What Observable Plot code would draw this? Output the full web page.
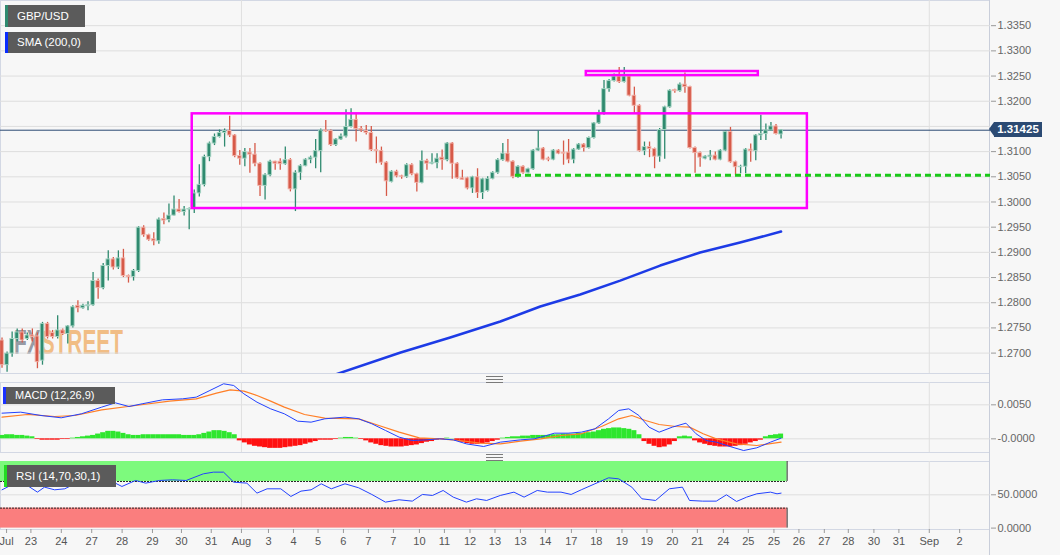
<!DOCTYPE html>
<html><head><meta charset="utf-8">
<script src="https://cdn.jsdelivr.net/npm/d3@7"></script>
<script src="https://cdn.jsdelivr.net/npm/@observablehq/plot@0.6"></script>
<style>
html,body{margin:0;padding:0;background:#f7f7f7;}
#wrap{position:relative;width:1060px;height:555px;overflow:hidden;font-family:"Liberation Sans",Arial,sans-serif;}
#wrap svg.plotsvg{position:absolute;left:0;}
.pane{position:absolute;left:0;width:989px;border:1px solid #d3d8e4;border-right:none;box-sizing:border-box;}
.tag{position:absolute;background:#5b5b5b;color:#fff;font-size:11.5px;box-sizing:border-box;white-space:nowrap;}
.tag i{position:absolute;left:0;top:0;bottom:0;width:2.5px;}
.handle{position:absolute;width:17px;height:5px;border-top:1px solid #7a7a7a;border-bottom:1px solid #7a7a7a;}
.handle:after{content:"";position:absolute;left:0;right:0;top:2px;border-top:1px solid #7a7a7a;}
</style></head>
<body><div id="wrap"></div>
<script>
// ---------------- data ----------------
const opens = [
1.2725,1.2676,1.2699,1.2728,1.2741,1.2728,1.2735,1.2733,1.2685,1.2758,
1.2740,1.2732,1.2745,1.2738,1.2753,1.2794,1.2789,1.2793,1.2795,1.2843,
1.2829,1.2873,1.2886,1.2870,1.2888,1.2853,1.2851,1.2863,1.2949,1.2934,
1.2926,1.2922,1.2966,1.2964,1.2973,1.2985,1.2980,1.2985,1.2986,1.3017,
1.3034,1.3089,1.3116,1.3129,1.3137,1.3141,1.3132,1.3091,1.3086,1.3098,
1.3094,1.3076,1.3032,1.3053,1.3080,1.3080,1.3075,1.3083,1.3025,1.3058,
1.3071,1.3084,1.3088,1.3101,1.3142,1.3141,1.3113,1.3124,1.3130,1.3149,
1.3163,1.3145,1.3141,1.3137,1.3103,1.3101,1.3078,1.3040,1.3060,1.3051,
1.3050,1.3073,1.3055,1.3038,1.3081,1.3076,1.3077,1.3088,1.3083,1.3116,
1.3076,1.3047,1.3047,1.3027,1.3049,1.3018,1.3022,1.3046,1.3058,1.3083,
1.3096,1.3080,1.3050,1.3070,1.3058,1.3065,1.3102,1.3106,1.3086,1.3084,
1.3102,1.3098,1.3098,1.3084,1.3104,1.3114,1.3107,1.3127,1.3156,1.3176,
1.3224,1.3240,1.3249,1.3238,1.3249,1.3211,1.3191,1.3101,1.3109,1.3105,
1.3090,1.3143,1.3188,1.3222,1.3220,1.3233,1.3228,1.3107,1.3097,1.3086,
1.3089,1.3092,1.3084,1.3102,1.3139,1.3079,1.3069,1.3070,1.3104,1.3101,
1.3132,1.3135,1.3142,1.3150,1.3134];
const highs = [
1.2730,1.2702,1.2742,1.2748,1.2748,1.2740,1.2748,1.2740,1.2761,1.2761,
1.2745,1.2774,1.2748,1.2755,1.2794,1.2804,1.2797,1.2802,1.2860,1.2847,
1.2878,1.2903,1.2890,1.2903,1.2906,1.2855,1.2866,1.2951,1.2953,1.2936,
1.2939,1.2968,1.2978,1.2996,1.3012,1.3005,1.2991,1.2988,1.3024,1.3074,
1.3093,1.3119,1.3135,1.3143,1.3145,1.3170,1.3134,1.3102,1.3106,1.3106,
1.3116,1.3078,1.3056,1.3083,1.3081,1.3086,1.3109,1.3086,1.3062,1.3074,
1.3086,1.3091,1.3124,1.3145,1.3162,1.3143,1.3126,1.3135,1.3183,1.3185,
1.3176,1.3150,1.3152,1.3150,1.3129,1.3109,1.3080,1.3062,1.3063,1.3053,
1.3076,1.3076,1.3057,1.3101,1.3085,1.3096,1.3096,1.3103,1.3118,1.3118,
1.3078,1.3063,1.3049,1.3051,1.3066,1.3047,1.3050,1.3060,1.3086,1.3116,
1.3124,1.3082,1.3072,1.3072,1.3067,1.3104,1.3141,1.3108,1.3089,1.3104,
1.3104,1.3121,1.3124,1.3106,1.3116,1.3116,1.3129,1.3158,1.3182,1.3241,
1.3243,1.3254,1.3267,1.3267,1.3252,1.3228,1.3193,1.3119,1.3119,1.3107,
1.3146,1.3190,1.3223,1.3224,1.3236,1.3256,1.3230,1.3109,1.3099,1.3092,
1.3102,1.3099,1.3104,1.3141,1.3148,1.3081,1.3073,1.3106,1.3115,1.3134,
1.3172,1.3155,1.3158,1.3154,1.3144];
const lows = [
1.2670,1.2662,1.2692,1.2722,1.2720,1.2725,1.2722,1.2669,1.2676,1.2728,
1.2728,1.2728,1.2735,1.2718,1.2750,1.2780,1.2787,1.2784,1.2793,1.2807,
1.2826,1.2843,1.2865,1.2866,1.2850,1.2839,1.2843,1.2860,1.2930,1.2922,
1.2913,1.2916,1.2955,1.2959,1.2972,1.2978,1.2972,1.2945,1.2977,1.3010,
1.3030,1.3080,1.3112,1.3127,1.3109,1.3128,1.3088,1.3073,1.3070,1.3057,
1.3070,1.3011,1.3004,1.3050,1.3063,1.3063,1.3073,1.3020,1.2981,1.3043,
1.3070,1.3076,1.3066,1.3058,1.3138,1.3110,1.3110,1.3122,1.3127,1.3147,
1.3119,1.3138,1.3133,1.3100,1.3076,1.3073,1.3011,1.3038,1.3048,1.3045,
1.3047,1.3052,1.3020,1.3036,1.3063,1.3074,1.3066,1.3063,1.3080,1.3045,
1.3045,1.3043,1.3024,1.3017,1.3007,1.3005,1.3020,1.3044,1.3055,1.3081,
1.3078,1.3046,1.3047,1.3055,1.3056,1.3063,1.3100,1.3082,1.3080,1.3082,
1.3094,1.3073,1.3076,1.3076,1.3102,1.3099,1.3105,1.3125,1.3154,1.3172,
1.3218,1.3238,1.3235,1.3236,1.3209,1.3175,1.3099,1.3092,1.3088,1.3066,
1.3079,1.3085,1.3186,1.3216,1.3218,1.3216,1.3105,1.3057,1.3069,1.3084,
1.3082,1.3082,1.3082,1.3100,1.3077,1.3053,1.3056,1.3056,1.3079,1.3082,
1.3122,1.3122,1.3140,1.3133,1.3125];
const closes = [
1.2676,1.2699,1.2728,1.2741,1.2725,1.2735,1.2732,1.2682,1.2758,1.2732,
1.2732,1.2745,1.2738,1.2753,1.2791,1.2789,1.2794,1.2795,1.2843,1.2829,
1.2873,1.2886,1.2870,1.2888,1.2853,1.2851,1.2863,1.2949,1.2934,1.2925,
1.2922,1.2965,1.2963,1.2973,1.2985,1.2980,1.2985,1.2986,1.3017,1.3034,
1.3089,1.3116,1.3129,1.3137,1.3141,1.3132,1.3091,1.3086,1.3099,1.3094,
1.3076,1.3032,1.3053,1.3080,1.3076,1.3075,1.3083,1.3025,1.3058,1.3071,
1.3084,1.3088,1.3101,1.3142,1.3140,1.3113,1.3124,1.3130,1.3149,1.3163,
1.3145,1.3142,1.3137,1.3103,1.3101,1.3078,1.3041,1.3060,1.3051,1.3050,
1.3073,1.3055,1.3038,1.3081,1.3076,1.3078,1.3086,1.3083,1.3116,1.3076,
1.3047,1.3044,1.3027,1.3049,1.3018,1.3045,1.3046,1.3058,1.3083,1.3096,
1.3080,1.3050,1.3070,1.3058,1.3065,1.3102,1.3106,1.3084,1.3084,1.3102,
1.3096,1.3096,1.3084,1.3104,1.3114,1.3107,1.3127,1.3156,1.3176,1.3224,
1.3240,1.3249,1.3238,1.3249,1.3211,1.3191,1.3101,1.3109,1.3105,1.3090,
1.3143,1.3188,1.3221,1.3220,1.3233,1.3228,1.3107,1.3097,1.3088,1.3090,
1.3092,1.3084,1.3102,1.3139,1.3079,1.3069,1.3070,1.3104,1.3101,1.3132,
1.3135,1.3142,1.3150,1.3135,1.31425];

// SMA(200) vertices (candle index, value)
const smaIdx = [65.9,78.8,88.6,98.5,106.4,114.3,122.2,130.1,138.0,145.9,154];
const smaVal = [1.26575,1.27012,1.27310,1.27627,1.27925,1.28163,1.28440,1.28738,1.28996,1.29194,1.29413];

// annotations
const lastPrice = 1.31425;
const supportLevel = 1.3053;
const supportStart = 101.5;
const rangeBox = {i1:37.6, i2:159.2, lo:1.2987, hi:1.3175};
const topBox = {i1:115.5, i2:149.5, lo:1.3251, hi:1.3259};

// MACD
const macdIdx = [0,3.7,7.7,11.7,15.7,19.7,22.4,25.1,27.7,31.7,35.7,38.4,41.1,43.8,45.8,47.8,50.4,53.1,55.8,58.4,61.1,63.8,67.8,70.5,73.1,75.8,78.5,81.1,83.8,86.5,89.2,91.8,95.2,98.5,102.5,105.2,106.5,109.2,111.9,114.5,117.2,119.9,121.9,123.9,125.9,127.9,129.9,132.5,135.2,137.2,139.2,141.2,143.9,146.6,149.2,151.9,154];
const macdVal = [0.00377,0.00392,0.00343,0.00309,0.00368,0.00466,0.00529,0.00475,0.00515,0.00573,0.00588,0.00613,0.00711,0.00809,0.00784,0.00662,0.00539,0.00441,0.00368,0.00260,0.00245,0.00294,0.00319,0.00294,0.00221,0.00123,0.00025,-0.00025,-0.00015,0,-0.00015,-0.00074,-0.00113,-0.00049,-0.00015,0,0.00025,0.00083,0.00083,0.00098,0.00147,0.00294,0.00417,0.00441,0.00343,0.00172,0.00098,0.00172,0.00230,0.00074,-0.00025,-0.00049,-0.00113,-0.00172,-0.00132,-0.00049,0.0001];
const signalIdx = [0,5.0,10.4,14.4,19.7,26.4,33.1,38.4,42.4,45.1,47.8,50.4,53.1,55.8,59.8,63.8,70.5,74.5,78.5,82.5,86.5,90.5,94.5,98.5,102.5,106.5,110.5,114.5,118.5,121.9,124.5,127.2,129.9,133.2,135.9,138.6,141.2,145.2,149.2,154];
const signalVal = [0.00319,0.00358,0.00328,0.00343,0.00426,0.00490,0.00554,0.00588,0.00671,0.00720,0.00701,0.00637,0.00554,0.00466,0.00358,0.00304,0.00294,0.00196,0.00098,0.00015,0,-0.00025,-0.00064,-0.00074,-0.00034,0,0.00049,0.00074,0.00181,0.00294,0.00343,0.00270,0.00211,0.00181,0.00172,0.00074,0,-0.00074,-0.00098,-0.00049];
const histVal = [
0.0005,0.0006,0.0006,0.0005,0.0005,0.0004,0.0003,
-0.0001,-0.0002,-0.0002,-0.0002,-0.0002,-0.0001,-0.0001,
0.0001,0.0002,0.0003,0.0004,0.0005,0.0007,0.0009,0.0011,0.0011,0.0010,0.0008,0.0006,
0.0005,0.0005,0.0006,0.0006,0.0006,0.0006,0.0006,0.0006,0.0006,0.0006,0.0005,0.0005,0.0005,
0.0006,0.0008,0.0010,0.0012,0.0012,0.0011,0.0009,0.0006,
-0.0003,-0.0006,-0.0009,-0.0011,-0.0012,-0.0013,-0.0014,-0.0014,-0.0014,-0.0013,-0.0012,-0.0011,-0.0010,-0.0008,-0.0006,-0.0004,-0.0002,
-0.0002,-0.0002,-0.0001,0.0001,
0.0002,0.0002,0.0001,-0.0001,
-0.0003,-0.0006,-0.0008,-0.0010,-0.0011,-0.0012,-0.0012,-0.0012,-0.0011,-0.0010,-0.0009,-0.0007,-0.0005,-0.0004,-0.0002,-0.0001,
0.0001,0.00003,
-0.0003,-0.0005,-0.0007,-0.0008,-0.0008,-0.0007,-0.0006,-0.0004,-0.0002,
0.0001,0.0002,0.0003,0.0003,0.0004,0.0004,0.0005,0.0005,0.0005,0.0005,0.0006,0.0006,0.0007,0.0007,0.0007,0.0008,0.0008,0.0009,0.0010,0.0012,0.0014,0.0015,0.0016,0.0016,0.0015,0.0014,0.0012,0.0006,
-0.0004,-0.0008,-0.0011,-0.0013,-0.0012,-0.0009,-0.0004,
0.0003,0.0004,0.0003,
-0.0003,-0.0006,-0.0008,-0.0010,-0.0011,-0.0012,-0.0012,-0.0012,-0.0011,-0.0010,-0.0008,-0.0006,-0.0004,-0.0002,
0.0003,0.0005,0.0006,0.0007];

// RSI
const rsiIdx = [0,1.7,5.0,7.0,8.4,10.4,12.4,14.4,17.1,19.1,21.1,23.7,26.4,28.4,31.1,33.7,36.4,39.8,41.8,43.8,45.8,48.4,50.4,52.4,55.1,57.1,59.1,61.1,63.1,65.1,67.8,70.5,73.1,75.8,78.5,81.1,83.1,85.1,87.2,89.2,91.8,93.8,95.8,98.5,101.2,103.2,105.8,107.8,110.5,112.5,114.5,117.2,119.9,121.9,124.5,126.5,129.2,131.9,134.5,135.9,138.5,141.2,143.2,145.2,147.2,149.2,151.9,153.2,154];
const rsiVal = [57.5,64,64,54,61.5,57.5,59,66.5,66.5,71.5,72.5,62.5,71.5,67.5,71.5,72.5,71.5,81.5,84,84,69,67.5,52.5,59,59,47.5,55.5,57.5,66.5,59,66.5,60.5,50.5,39,42.5,40.5,50.5,49,56.5,46.5,39,44,41.5,49,54,46.5,56.5,54,54,50.5,57.5,66.5,75.5,74,61.5,44,41.5,59,61.5,41.5,40.5,40.5,50,40,46.5,51.5,54,51.5,52.5];
const rsiUpper = 70, rsiLower = 30, rsiBandEnd = 155.2;

// axes
const priceTicks = [1.2700,1.2750,1.2800,1.2850,1.2900,1.2950,1.3000,1.3050,1.3100,1.3150,1.3200,1.3250,1.3300,1.3350];
const hiddenPriceLabel = 1.3150; // covered by the current-price tag in the reference
const macdTicks = [0.005, 0];
const rsiTicks = [50, 0];
const xTickIdx = [0.9,5.71,11.72,17.73,23.74,29.74,35.47,41.36,47.33,52.67,57.61,62.47,67.49,72.43,77.37,82.51,87.45,92.51,97.45,102.47,107.41,112.55,117.49,122.55,127.49,132.51,137.45,142.59,147.53,152.59,157.53,162.55,167.29,172.35,177.29,183.3,189.3];
const xTickLabels = ["Jul","23","24","27","28","29","30","31","Aug","3","4","5","6","7","7","10","11","12","13","13","14","17","18","19","19","20","21","24","25","25","26","27","28","30","31","Sep","2"];
const monthLines = [47.33, 183.3];

// ---------------- drawing ----------------
const W = 1060, RIGHT = 70;
const X_DOMAIN = [-0.3, 195.4];
const UP = "#2f8a6f", DN = "#d65a49", UPH = "#a8d5c5", DNH = "#f2b5ac";
const FONT = "'Liberation Sans', Arial, sans-serif";
const wrap = document.getElementById("wrap");

const candles = opens.map((o, k) => ({i: k, o, h: highs[k], l: lows[k], c: closes[k]}));
const sma = smaIdx.map((x, k) => ({x, y: smaVal[k]}));
const macd = macdIdx.map((x, k) => ({x, y: macdVal[k]}));
const signal = signalIdx.map((x, k) => ({x, y: signalVal[k]}));
const hist = histVal.map((v, k) => ({i: k, v}));
const rsi = rsiIdx.map((x, k) => ({x, y: rsiVal[k]}));
const labelMap = new Map(xTickIdx.map((d, k) => [d, xTickLabels[k]]));

// panes (borders)
function pane(top, h) {
  const d = document.createElement("div"); d.className = "pane";
  d.style.top = top + "px"; d.style.height = h + "px"; wrap.appendChild(d);
}
pane(0, 374); pane(382, 71); pane(461, 69);
const vline = document.createElement("div");
Object.assign(vline.style, {position: "absolute", left: "989px", top: "0", width: "1px", height: "555px", background: "#c9ceda"});
wrap.appendChild(vline);

// watermark
const wm = document.createElementNS("http://www.w3.org/2000/svg", "svg");
wm.setAttribute("width", 200); wm.setAttribute("height", 380);
wm.style.position = "absolute"; wm.style.left = "0"; wm.style.top = "0";
wm.innerHTML = `<g transform="translate(14,354) scale(0.58,1)" font-family="${FONT}" font-weight="bold" font-size="36"><text><tspan fill="#868b95" fill-opacity="0.85">FX</tspan><tspan fill="#f0b370" fill-opacity="0.85">STREET</tspan></text></g>`;
wrap.appendChild(wm);

const main = Plot.plot({
  width: W, height: 373, marginTop: 0, marginBottom: 0, marginLeft: 0, marginRight: RIGHT,
  style: {background: "transparent", fontFamily: FONT, fontSize: "11px", color: "#666", overflow: "visible"},
  x: {domain: X_DOMAIN, axis: null},
  y: {domain: [1.26595, 1.3400], axis: null},
  marks: [
    Plot.gridY(priceTicks, {stroke: "#dedede", strokeOpacity: 1}),
    Plot.ruleX(monthLines, {stroke: "#e0e0e0"}),
    Plot.ruleY([lastPrice], {stroke: "#2b4a73", strokeWidth: 1}),
    Plot.line(sma, {x: "x", y: "y", stroke: "#1d3be6", strokeWidth: 2.5, clip: true}),
    Plot.ruleX(candles, {x: "i", y1: "l", y2: "h", stroke: d => d.c >= d.o ? UP : DN, strokeWidth: 1.3}),
    Plot.rect(candles, {x1: d => d.i - 0.36, x2: d => d.i + 0.36, y1: "o", y2: "c",
      fill: d => d.c >= d.o ? UP : DN, stroke: d => d.c >= d.o ? UPH : DNH, strokeWidth: 0.9}),
    Plot.rect([rangeBox, topBox], {x1: "i1", x2: "i2", y1: "lo", y2: "hi", fill: "none", stroke: "#ff00ff", strokeWidth: 2.5}),
    Plot.ruleY([supportLevel], {x1: supportStart, x2: X_DOMAIN[1], stroke: "#19c919", strokeWidth: 3, strokeDasharray: "6,4"}),
    Plot.axisY(priceTicks, {anchor: "right", tickSize: 5, tickPadding: 2,
      tickFormat: d => d === hiddenPriceLabel ? "" : d.toFixed(4), fontSize: 11, stroke: "#999", fill: "#666"})
  ]
});
main.classList.add("plotsvg"); main.style.top = "0px";
wrap.appendChild(main);

const macdChart = Plot.plot({
  width: W, height: 70, marginTop: 0, marginBottom: 0, marginLeft: 0, marginRight: RIGHT,
  style: {background: "transparent", fontFamily: FONT, fontSize: "11px", color: "#666", overflow: "visible"},
  x: {domain: X_DOMAIN, axis: null},
  y: {domain: [-0.00201, 0.00828], axis: null},
  marks: [
    Plot.gridY(macdTicks, {stroke: "#dedede", strokeOpacity: 1}),
    Plot.ruleX(monthLines, {stroke: "#e0e0e0"}),
    Plot.rect(hist, {x1: d => d.i - 0.5, x2: d => d.i + 0.5, y1: 0, y2: "v", fill: d => d.v >= 0 ? "#2ee62e" : "#ff1010"}),
    Plot.line(signal, {x: "x", y: "y", stroke: "#ff7f27", strokeWidth: 1.2}),
    Plot.line(macd, {x: "x", y: "y", stroke: "#2342ff", strokeWidth: 1}),
    Plot.axisY(macdTicks, {anchor: "right", tickSize: 5, tickPadding: 2, tickFormat: d => d === 0 ? "-0.0000" : d.toFixed(4), fontSize: 11, stroke: "#999", fill: "#666"})
  ]
});
macdChart.classList.add("plotsvg"); macdChart.style.top = "382px";
wrap.appendChild(macdChart);

const rsiChart = Plot.plot({
  width: W, height: 94, marginTop: 0, marginBottom: 26, marginLeft: 0, marginRight: RIGHT,
  style: {background: "transparent", fontFamily: FONT, fontSize: "11px", color: "#666", overflow: "visible"},
  x: {domain: X_DOMAIN, axis: null},
  y: {domain: [-2.1, 100], axis: null},
  marks: [
    Plot.gridY([50], {stroke: "#dedede", strokeOpacity: 1}),
    Plot.ruleX(monthLines, {stroke: "#e0e0e0"}),
    Plot.rect([{a: X_DOMAIN[0], b: rsiBandEnd, lo: rsiUpper, hi: 100}], {x1: "a", x2: "b", y1: "lo", y2: "hi", fill: "#7dfa7d"}),
    Plot.rect([{a: X_DOMAIN[0], b: rsiBandEnd, lo: 0, hi: rsiLower}], {x1: "a", x2: "b", y1: "lo", y2: "hi", fill: "#fa7e7e"}),
    Plot.ruleY([rsiUpper, rsiLower], {x1: X_DOMAIN[0], x2: rsiBandEnd, stroke: "#222", strokeWidth: 1, strokeDasharray: "2,1"}),
    Plot.ruleX([rsiBandEnd], {y1: rsiUpper, y2: 100, stroke: "#333"}),
    Plot.ruleX([rsiBandEnd], {y1: 0, y2: rsiLower, stroke: "#333"}),
    Plot.line(rsi, {x: "x", y: "y", stroke: "#2342ff", strokeWidth: 1}),
    Plot.axisY(rsiTicks, {anchor: "right", tickSize: 5, tickPadding: 2, tickFormat: d => d.toFixed(4), fontSize: 11, stroke: "#999", fill: "#666"}),
    Plot.axisX(xTickIdx, {anchor: "bottom", tickSize: 4, tickPadding: 4, tickFormat: d => labelMap.get(d), fontSize: 11, stroke: "#999", fill: "#555"})
  ]
});
rsiChart.classList.add("plotsvg"); rsiChart.style.top = "461px";
wrap.appendChild(rsiChart);

// tags
function tag(text, left, top, w, h, color, fs) {
  const d = document.createElement("div"); d.className = "tag";
  Object.assign(d.style, {left: left + "px", top: top + "px", width: w + "px", height: h + "px", lineHeight: h + "px", paddingLeft: "12px", fontSize: fs + "px"});
  d.innerHTML = `<i style="background:${color}"></i>` + text;
  wrap.appendChild(d);
}
tag("GBP/USD", 5, 5, 80, 22, "#2f8a6f", 11.5);
tag("SMA (200,0)", 5, 32, 91, 21, "#0a2dff", 11.5);
tag("MACD (12,26,9)", 3, 387, 112, 17, "#1a30ff", 11);
tag("RSI (14,70,30,1)", 4, 465, 112, 22, "#22dd22", 11.5);

// handles
for (const t of [376, 454]) {
  const h = document.createElement("div"); h.className = "handle";
  h.style.left = "486px"; h.style.top = t + "px"; wrap.appendChild(h);
}

// current price label
const py = main.scale("y").apply(lastPrice);
const lab = document.createElement("div");
Object.assign(lab.style, {position: "absolute", left: "994px", top: (py - 7.5) + "px", width: "48px", height: "15px", lineHeight: "15px",
  background: "#2b4a73", color: "#fff", fontWeight: "bold", fontSize: "11.5px", textAlign: "center", fontFamily: FONT});
lab.textContent = lastPrice.toFixed(5);
wrap.appendChild(lab);
const arr = document.createElement("div");
Object.assign(arr.style, {position: "absolute", left: "989px", top: (py - 7.5) + "px", width: "0", height: "0",
  borderTop: "7.5px solid transparent", borderBottom: "7.5px solid transparent", borderRight: "5px solid #2b4a73"});
wrap.appendChild(arr);
</script></body></html>
